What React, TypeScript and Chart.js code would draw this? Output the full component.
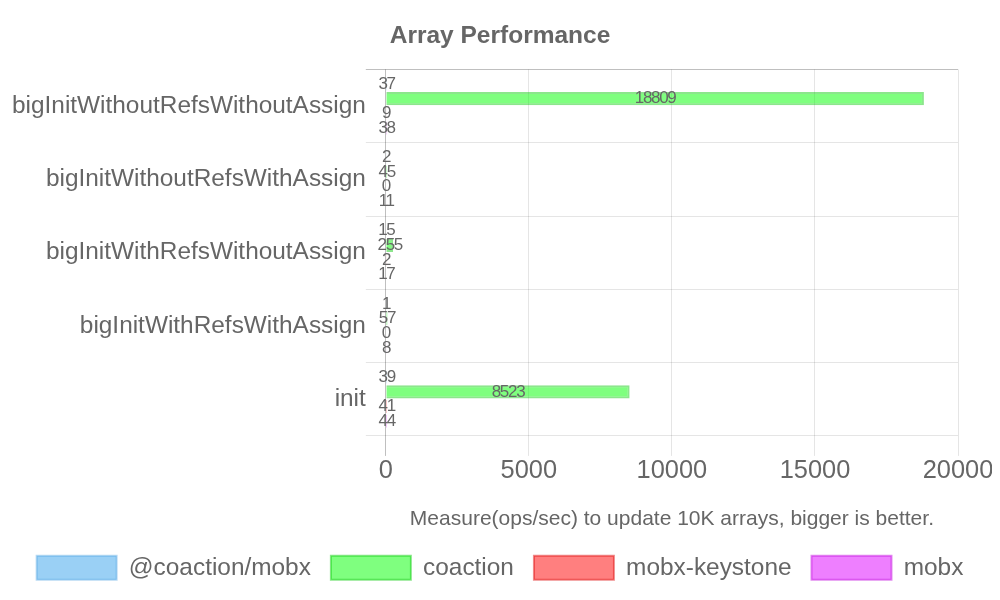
import React, { useEffect, useRef } from "react";
import { Chart, registerables } from "chart.js";

Chart.register(...registerables);

const categories = [
  "bigInitWithoutRefsWithoutAssign",
  "bigInitWithoutRefsWithAssign",
  "bigInitWithRefsWithoutAssign",
  "bigInitWithRefsWithAssign",
  "init",
];

const coactionMobx = [37, 2, 15, 1, 39];
const coaction = [18809, 45, 255, 57, 8523];
const mobxKeystone = [9, 0, 2, 0, 41];
const mobx = [38, 11, 17, 8, 44];

const xTicks = [0, 5000, 10000, 15000, 20000];

const FONT = "'Liberation Sans', Arial, sans-serif";

const barLabels = {
  id: "barLabels",
  afterDatasetsDraw(chart: any) {
    const ctx = chart.ctx;
    ctx.save();
    ctx.font = `17px ${FONT}`;
    (ctx as any).letterSpacing = "-1.3px";
    ctx.fillStyle = "#666";
    ctx.textAlign = "center";
    ctx.textBaseline = "middle";
    chart.data.datasets.forEach((ds: any, i: number) => {
      const meta = chart.getDatasetMeta(i);
      meta.data.forEach((el: any, j: number) => {
        const x = (el.base + el.x) / 2;
        ctx.fillText(String(ds.data[j]), x, el.y);
      });
    });
    ctx.restore();
  },
};

export default function App() {
  const ref = useRef<HTMLCanvasElement>(null);
  useEffect(() => {
    if (!ref.current) return;
    const chart = new Chart(ref.current, {
      type: "bar",
      data: {
        labels: categories,
        datasets: [
          { label: "@coaction/mobx", data: coactionMobx, backgroundColor: "rgba(54,162,235,0.5)", borderColor: "rgba(54,150,220,0.35)", borderWidth: 2 },
          { label: "coaction", data: coaction, backgroundColor: "rgba(0,255,0,0.5)", borderColor: "rgba(0,200,0,0.45)", borderWidth: 2 },
          { label: "mobx-keystone", data: mobxKeystone, backgroundColor: "rgba(255,0,0,0.5)", borderColor: "rgba(220,0,0,0.45)", borderWidth: 2 },
          { label: "mobx", data: mobx, backgroundColor: "rgba(221,0,255,0.5)", borderColor: "rgba(190,0,220,0.45)", borderWidth: 2 },
        ],
      },
      options: {
        indexAxis: "y",
        animation: false,
        responsive: true,
        maintainAspectRatio: false,
        layout: { padding: { bottom: 2 } },
        scales: {
          x: {
            min: 0,
            max: 20000,
            afterBuildTicks: (axis: any) => {
              axis.ticks = xTicks.map((v) => ({ value: v }));
            },
            afterFit: (scale: any) => {
              scale.paddingRight = 34;
            },
            grid: {
              color: (c: any) => (c.index === 0 ? "rgba(0,0,0,0.25)" : "rgba(0,0,0,0.1)"),
              tickLength: 20,
            },
            border: { display: false },
            ticks: {
              color: "#666",
              font: { size: 25.4, family: FONT },
              padding: 0,
              callback: (v: any) => String(v),
            },
            title: {
              display: true,
              text: "Measure(ops/sec) to update 10K arrays, bigger is better.",
              color: "#666",
              font: { size: 21, family: FONT },
              padding: { top: 20, bottom: 4 },
            },
          },
          y: {
            afterFit: (scale: any) => {
              scale.width = scale.width + 4;
            },
            grid: {
              color: (c: any) => (c.index === 0 ? "rgba(0,0,0,0.25)" : "rgba(0,0,0,0.1)"),
              tickLength: 20,
              offset: true,
            },
            border: { display: false },
            ticks: { color: "#666", font: { size: 24.4, family: FONT }, padding: 0 },
          },
        },
        plugins: {
          title: {
            display: true,
            text: "Array Performance",
            color: "#666",
            font: { size: 24.5, weight: "bold", family: FONT },
            padding: { top: 14, bottom: 18 },
          },
          legend: {
            position: "bottom",
            labels: {
              boxWidth: 80,
              boxHeight: 24,
              color: "#666",
              font: { size: 24.4, family: FONT },
              padding: 20,
            },
          },
          tooltip: { enabled: false },
        },
      },
      plugins: [barLabels],
    } as any);
    return () => chart.destroy();
  }, []);
  return (
    <div style={{ position: "relative", width: 984, height: 584 }}>
      <canvas ref={ref} />
    </div>
  );
}
